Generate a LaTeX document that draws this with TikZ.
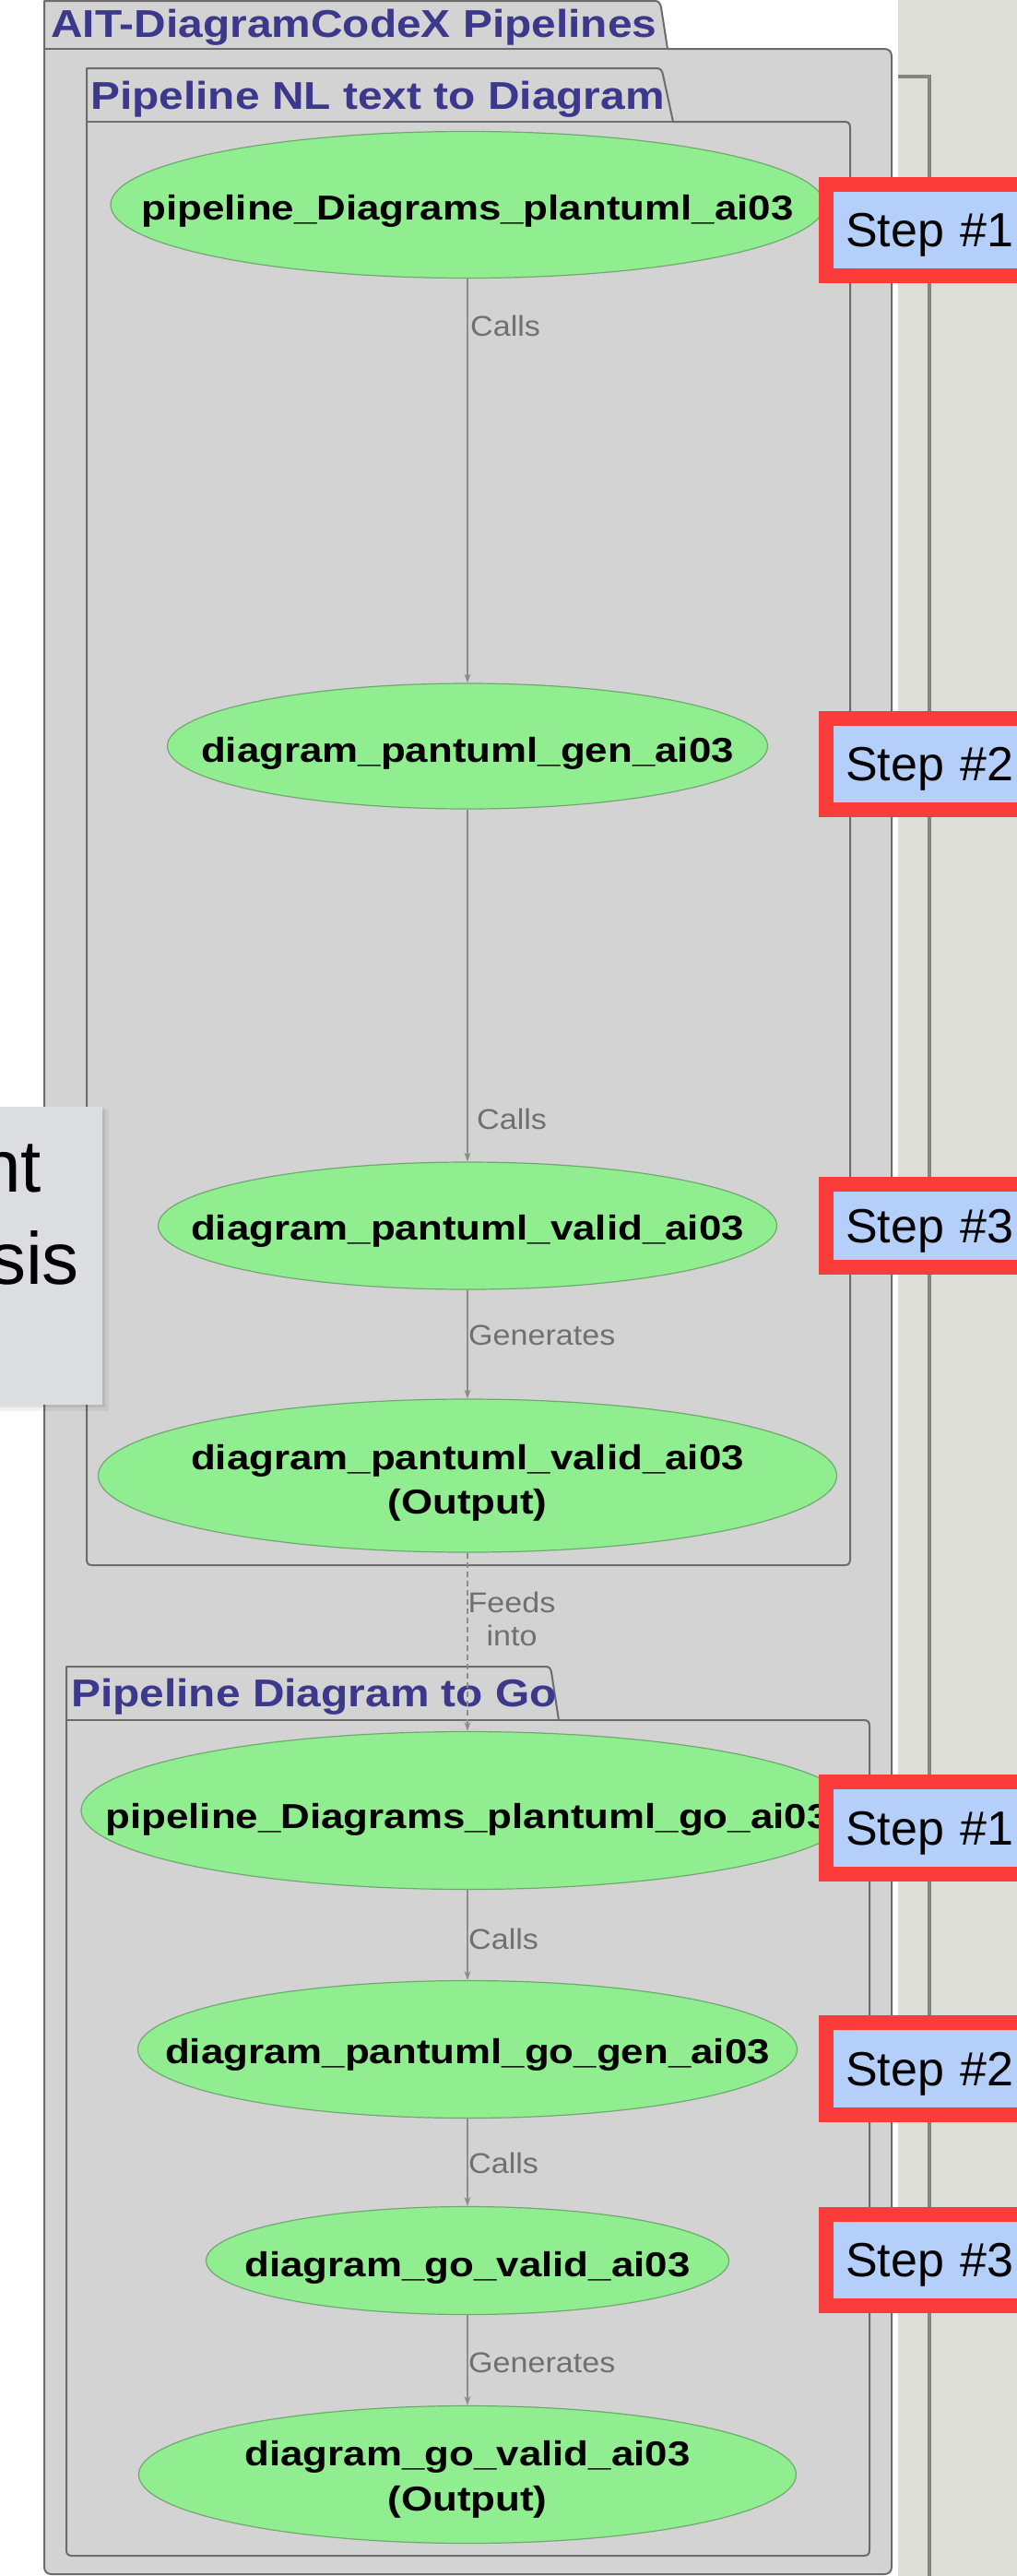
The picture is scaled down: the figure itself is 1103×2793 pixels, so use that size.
\documentclass[tikz,border=0pt]{standalone}
\usepackage{fontspec}
\setmainfont{Liberation Sans}
\usepackage{graphicx}
\usetikzlibrary{shapes.geometric,arrows.meta}

\definecolor{pkgfill}{RGB}{211,211,211}
\definecolor{pkgline}{RGB}{108,108,108}
\definecolor{ttlcol}{RGB}{60,56,140}
\definecolor{ellfill}{RGB}{144,238,144}
\definecolor{ellline}{RGB}{112,168,112}
\definecolor{edgecol}{RGB}{140,140,140}
\definecolor{lblcol}{RGB}{112,112,112}
\definecolor{stepred}{RGB}{252,60,58}
\definecolor{stepblue}{RGB}{180,208,250}
\definecolor{rightbg}{RGB}{222,222,216}
\definecolor{frameline}{RGB}{134,134,128}
\definecolor{notefill}{RGB}{220,221,225}

\newcommand\ttlfont{\fontsize{42}{50}\selectfont\bfseries}
\newcommand\ellfont{\fontsize{37.5}{48}\selectfont\bfseries}
\newcommand\lblfont{\fontsize{31}{36}\selectfont}
\newcommand\stepfont{\fontsize{52}{60}\selectfont}
\newcommand\notefont{\fontsize{80}{96}\selectfont}
\newcommand\hstretch[2]{\scalebox{#1}[1]{#2}}

\begin{document}
\begin{tikzpicture}[x=1pt,y=-1pt,
  pkg/.style={fill=pkgfill, draw=pkgline, line width=2pt, line join=round},
  pkgtitle/.style={anchor=base west, inner sep=0pt, text=ttlcol, font=\ttlfont},
  ell/.style={ellipse, fill=ellfill, draw=ellline, line width=1.2pt, inner sep=0pt},
  elltext/.style={anchor=base, inner sep=0pt, font=\ellfont, text=black},
  lbl/.style={anchor=west, inner sep=0pt, font=\lblfont, text=lblcol},
  flow/.style={draw=edgecol, line width=1.5pt, -{Stealth[length=10pt,width=7pt]}},
  stepbox/.style={rectangle, fill=stepblue, draw=stepred, line width=16pt, anchor=west,
    minimum height=99pt, text width=200pt, align=left, inner xsep=21pt, inner ysep=0pt,
    text height=37pt, text depth=0pt, font=\stepfont, text=black},
  notetext/.style={anchor=base east, inner sep=0pt, font=\notefont, text=black}
]
\useasboundingbox (0,0) rectangle (1103,2793);
\fill[white] (0,0) rectangle (1103,2793);

% right textured area and frame line
\fill[rightbg] (974,0) rectangle (1103,2793);
\draw[frameline, line width=4pt] (974,82.5) -- (1008,82.5) -- (1008,2793);

% outer package
\filldraw[pkg] (48,2783) -- (48,1) -- (710,1) .. controls (714,1) and (716,3) .. (717,8)
  -- (724,53) -- (959,53) .. controls (964,53) and (967,56) .. (967,61)
  -- (967,2783) .. controls (967,2788) and (964,2791) .. (959,2791)
  -- (56,2791) .. controls (51,2791) and (48,2788) .. (48,2783) -- cycle;
\draw[pkgline, line width=2pt] (48,53) -- (724,53);
\node[pkgtitle] (ttl0) at (55,40) {\hstretch{1.14}{AIT-DiagramCodeX Pipelines}};

% package 1
\filldraw[pkg] (94,1691) -- (94,74) -- (712,74) .. controls (716,74) and (718,76) .. (719,81)
  -- (730,132) -- (916,132) .. controls (920,132) and (922,134) .. (922,138)
  -- (922,1691) .. controls (922,1695) and (920,1697) .. (916,1697)
  -- (100,1697) .. controls (96,1697) and (94,1695) .. (94,1691) -- cycle;
\draw[pkgline, line width=2pt] (94,132) -- (730,132);
\node[pkgtitle] (ttl1) at (98,118) {\hstretch{1.14}{Pipeline NL text to Diagram}};

% package 2
\filldraw[pkg] (72,2765) -- (72,1807) -- (592,1807) .. controls (596,1807) and (597,1809) .. (598,1813)
  -- (606,1865) -- (937,1865) .. controls (941,1865) and (943,1867) .. (943,1871)
  -- (943,2765) .. controls (943,2769) and (941,2771) .. (937,2771)
  -- (78,2771) .. controls (74,2771) and (72,2769) .. (72,2765) -- cycle;
\draw[pkgline, line width=2pt] (72,1865) -- (606,1865);
\node[pkgtitle] (ttl2) at (77,1850) {\hstretch{1.14}{Pipeline Diagram to Go}};

% ellipses
\node[ell, minimum width=774pt, minimum height=159pt] (e1) at (507,222) {};
\node[ell, minimum width=651pt, minimum height=136pt] (e2) at (507,809) {};
\node[ell, minimum width=671pt, minimum height=138pt] (e3) at (507,1329) {};
\node[ell, minimum width=801pt, minimum height=166pt] (e4) at (507,1600) {};
\node[ell, minimum width=838pt, minimum height=171pt] (e5) at (507,1963) {};
\node[ell, minimum width=715pt, minimum height=149pt] (e6) at (507,2222) {};
\node[ell, minimum width=567pt, minimum height=117pt] (e7) at (507,2451) {};
\node[ell, minimum width=713pt, minimum height=149pt] (e8) at (507,2683) {};

% ellipse texts
\node[elltext] (t1) at (507,238) {\hstretch{1.17}{pipeline\_Diagrams\_plantuml\_ai03}};
\node[elltext] (t2) at (507,826) {\hstretch{1.17}{diagram\_pantuml\_gen\_ai03}};
\node[elltext] (t3) at (507,1344) {\hstretch{1.17}{diagram\_pantuml\_valid\_ai03}};
\node[elltext] (t4a) at (507,1593) {\hstretch{1.17}{diagram\_pantuml\_valid\_ai03}};
\node[elltext] (t4b) at (507,1641) {\hstretch{1.17}{(Output)}};
\node[elltext] (t5) at (507,1982) {\hstretch{1.17}{pipeline\_Diagrams\_plantuml\_go\_ai03}};
\node[elltext] (t6) at (507,2237) {\hstretch{1.17}{diagram\_pantuml\_go\_gen\_ai03}};
\node[elltext] (t7) at (507,2468) {\hstretch{1.17}{diagram\_go\_valid\_ai03}};
\node[elltext] (t8a) at (507,2673) {\hstretch{1.17}{diagram\_go\_valid\_ai03}};
\node[elltext] (t8b) at (507,2722) {\hstretch{1.17}{(Output)}};

% connectors
\draw[flow] (e1) -- (e2);
\draw[flow] (e2) -- (e3);
\draw[flow] (e3) -- (e4);
\draw[flow, dash pattern=on 6pt off 4pt] (e4) -- (e5);
\draw[flow] (e5) -- (e6);
\draw[flow] (e6) -- (e7);
\draw[flow] (e7) -- (e8);

% connector labels
\node[lbl] (l1) at (510,353) {\hstretch{1.1}{Calls}};
\node[lbl] (l2) at (517,1213) {\hstretch{1.1}{Calls}};
\node[lbl] (l3) at (508,1448) {\hstretch{1.1}{Generates}};
\node[inner sep=0pt, font=\lblfont, text=lblcol, align=center] (l4) at (555,1755)
  {\hstretch{1.1}{Feeds}\\\hstretch{1.1}{into}};
\node[lbl] (l5) at (508,2102) {\hstretch{1.1}{Calls}};
\node[lbl] (l6) at (508,2345) {\hstretch{1.1}{Calls}};
\node[lbl] (l7) at (508,2562) {\hstretch{1.1}{Generates}};

% step boxes
\node[stepbox] (s1) at (888,249) {Step \#1};
\node[stepbox] (s2) at (888,828) {Step \#2};
\node[stepbox, minimum height=90pt] (s3) at (888,1329) {Step \#3};
\node[stepbox, minimum height=100pt] (s4) at (888,1982) {Step \#1};
\node[stepbox, minimum height=100pt] (s5) at (888,2243) {Step \#2};
\node[stepbox] (s6) at (888,2450) {Step \#3};

% left note (partly cut off)
\fill[black, opacity=0.05] (-5,1203) rectangle (118,1530);
\fill[black, opacity=0.07] (-5,1201) rectangle (114,1526);
\fill[notefill] (-5,1200) rectangle (111,1523);
\node[notetext] (n1) at (45,1292) {nt};
\node[notetext] (n2) at (86,1392) {sis};
\end{tikzpicture}
\end{document}
